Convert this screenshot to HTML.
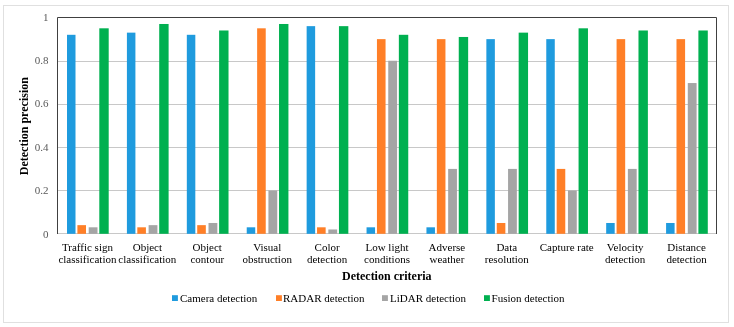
<!DOCTYPE html><html><head><meta charset="utf-8"><style>html,body{margin:0;padding:0;background:#fff;width:734px;height:327px;overflow:hidden}svg{display:block;will-change:transform}text{font-family:"Liberation Serif",serif}</style></head><body>
<svg width="734" height="327" viewBox="0 0 734 327">
<rect x="0" y="0" width="734" height="327" fill="#fff"/>
<rect x="3.5" y="5.5" width="725" height="317" fill="#fff" stroke="#E0E0E0" stroke-width="1"/>
<line x1="57.5" y1="190.50" x2="716.5" y2="190.50" stroke="#C8C8C8" stroke-width="1"/>
<line x1="57.5" y1="147.50" x2="716.5" y2="147.50" stroke="#C8C8C8" stroke-width="1"/>
<line x1="57.5" y1="104.50" x2="716.5" y2="104.50" stroke="#C8C8C8" stroke-width="1"/>
<line x1="57.5" y1="61.50" x2="716.5" y2="61.50" stroke="#C8C8C8" stroke-width="1"/>
<line x1="57.5" y1="233.5" x2="716.5" y2="233.5" stroke="#C8C8C8" stroke-width="1"/>
<rect x="67.00" y="34.80" width="8.5" height="199.00" fill="#1F9BDE"/>
<rect x="77.40" y="225.15" width="8.6" height="8.65" fill="#FF7F27"/>
<rect x="88.70" y="227.31" width="8.8" height="6.49" fill="#A5A5A5"/>
<rect x="99.30" y="28.31" width="9.4" height="205.49" fill="#00B050"/>
<rect x="126.91" y="32.64" width="8.5" height="201.16" fill="#1F9BDE"/>
<rect x="137.31" y="227.31" width="8.6" height="6.49" fill="#FF7F27"/>
<rect x="148.61" y="225.15" width="8.8" height="8.65" fill="#A5A5A5"/>
<rect x="159.21" y="23.99" width="9.4" height="209.81" fill="#00B050"/>
<rect x="186.82" y="34.80" width="8.5" height="199.00" fill="#1F9BDE"/>
<rect x="197.22" y="225.15" width="8.6" height="8.65" fill="#FF7F27"/>
<rect x="208.52" y="222.99" width="8.8" height="10.81" fill="#A5A5A5"/>
<rect x="219.12" y="30.48" width="9.4" height="203.32" fill="#00B050"/>
<rect x="246.73" y="227.31" width="8.5" height="6.49" fill="#1F9BDE"/>
<rect x="257.13" y="28.31" width="8.6" height="205.49" fill="#FF7F27"/>
<rect x="268.43" y="190.54" width="8.8" height="43.26" fill="#A5A5A5"/>
<rect x="279.03" y="23.99" width="9.4" height="209.81" fill="#00B050"/>
<rect x="306.64" y="26.15" width="8.5" height="207.65" fill="#1F9BDE"/>
<rect x="317.04" y="227.31" width="8.6" height="6.49" fill="#FF7F27"/>
<rect x="328.34" y="229.47" width="8.8" height="4.33" fill="#A5A5A5"/>
<rect x="338.94" y="26.15" width="9.4" height="207.65" fill="#00B050"/>
<rect x="366.55" y="227.31" width="8.5" height="6.49" fill="#1F9BDE"/>
<rect x="376.95" y="39.13" width="8.6" height="194.67" fill="#FF7F27"/>
<rect x="388.25" y="60.76" width="8.8" height="173.04" fill="#A5A5A5"/>
<rect x="398.85" y="34.80" width="9.4" height="199.00" fill="#00B050"/>
<rect x="426.45" y="227.31" width="8.5" height="6.49" fill="#1F9BDE"/>
<rect x="436.85" y="39.13" width="8.6" height="194.67" fill="#FF7F27"/>
<rect x="448.15" y="168.91" width="8.8" height="64.89" fill="#A5A5A5"/>
<rect x="458.75" y="36.97" width="9.4" height="196.83" fill="#00B050"/>
<rect x="486.36" y="39.13" width="8.5" height="194.67" fill="#1F9BDE"/>
<rect x="496.76" y="222.99" width="8.6" height="10.81" fill="#FF7F27"/>
<rect x="508.06" y="168.91" width="8.8" height="64.89" fill="#A5A5A5"/>
<rect x="518.66" y="32.64" width="9.4" height="201.16" fill="#00B050"/>
<rect x="546.27" y="39.13" width="8.5" height="194.67" fill="#1F9BDE"/>
<rect x="556.67" y="168.91" width="8.6" height="64.89" fill="#FF7F27"/>
<rect x="567.97" y="190.54" width="8.8" height="43.26" fill="#A5A5A5"/>
<rect x="578.57" y="28.31" width="9.4" height="205.49" fill="#00B050"/>
<rect x="606.18" y="222.99" width="8.5" height="10.81" fill="#1F9BDE"/>
<rect x="616.58" y="39.13" width="8.6" height="194.67" fill="#FF7F27"/>
<rect x="627.88" y="168.91" width="8.8" height="64.89" fill="#A5A5A5"/>
<rect x="638.48" y="30.48" width="9.4" height="203.32" fill="#00B050"/>
<rect x="666.09" y="222.99" width="8.5" height="10.81" fill="#1F9BDE"/>
<rect x="676.49" y="39.13" width="8.6" height="194.67" fill="#FF7F27"/>
<rect x="687.79" y="83.04" width="8.8" height="150.76" fill="#A5A5A5"/>
<rect x="698.39" y="30.48" width="9.4" height="203.32" fill="#00B050"/>
<path d="M57.5 234V17.5H716.5V234" fill="none" stroke="#404040" stroke-width="1"/>
<text x="48.5" y="237.55" font-size="11" fill="#595959" color="#595959" text-anchor="end">0</text>
<text x="48.5" y="194.17" font-size="11" fill="#595959" color="#595959" text-anchor="end">0.2</text>
<text x="48.5" y="150.79" font-size="11" fill="#595959" color="#595959" text-anchor="end">0.4</text>
<text x="48.5" y="107.41" font-size="11" fill="#595959" color="#595959" text-anchor="end">0.6</text>
<text x="48.5" y="64.03" font-size="11" fill="#595959" color="#595959" text-anchor="end">0.8</text>
<text x="48.5" y="20.65" font-size="11" fill="#595959" color="#595959" text-anchor="end">1</text>
<text x="87.45" y="250.5" font-size="11" fill="#000" color="#000" text-anchor="middle">Traffic sign</text>
<text x="87.45" y="263.4" font-size="11" fill="#000" color="#000" text-anchor="middle">classification</text>
<text x="147.36" y="250.5" font-size="11" fill="#000" color="#000" text-anchor="middle">Object</text>
<text x="147.36" y="263.4" font-size="11" fill="#000" color="#000" text-anchor="middle">classification</text>
<text x="207.27" y="250.5" font-size="11" fill="#000" color="#000" text-anchor="middle">Object</text>
<text x="207.27" y="263.4" font-size="11" fill="#000" color="#000" text-anchor="middle">contour</text>
<text x="267.18" y="250.5" font-size="11" fill="#000" color="#000" text-anchor="middle">Visual</text>
<text x="267.18" y="263.4" font-size="11" fill="#000" color="#000" text-anchor="middle">obstruction</text>
<text x="327.09" y="250.5" font-size="11" fill="#000" color="#000" text-anchor="middle">Color</text>
<text x="327.09" y="263.4" font-size="11" fill="#000" color="#000" text-anchor="middle">detection</text>
<text x="387.00" y="250.5" font-size="11" fill="#000" color="#000" text-anchor="middle">Low light</text>
<text x="387.00" y="263.4" font-size="11" fill="#000" color="#000" text-anchor="middle">conditions</text>
<text x="446.91" y="250.5" font-size="11" fill="#000" color="#000" text-anchor="middle">Adverse</text>
<text x="446.91" y="263.4" font-size="11" fill="#000" color="#000" text-anchor="middle">weather</text>
<text x="506.82" y="250.5" font-size="11" fill="#000" color="#000" text-anchor="middle">Data</text>
<text x="506.82" y="263.4" font-size="11" fill="#000" color="#000" text-anchor="middle">resolution</text>
<text x="566.73" y="250.5" font-size="11" fill="#000" color="#000" text-anchor="middle">Capture rate</text>
<text x="625.14" y="250.5" font-size="11" fill="#000" color="#000" text-anchor="middle">Velocity</text>
<text x="625.14" y="263.4" font-size="11" fill="#000" color="#000" text-anchor="middle">detection</text>
<text x="686.55" y="250.5" font-size="11" fill="#000" color="#000" text-anchor="middle">Distance</text>
<text x="686.55" y="263.4" font-size="11" fill="#000" color="#000" text-anchor="middle">detection</text>
<text x="386.8" y="279.7" font-size="12" font-weight="bold" fill="#000" color="#000" text-anchor="middle">Detection criteria</text>
<text transform="translate(28.4,126.15) rotate(-90)" x="0" y="0" font-size="12" font-weight="bold" fill="#000" color="#000" text-anchor="middle">Detection precision</text>
<rect x="172" y="295.2" width="5.9" height="5.8" fill="#1F9BDE"/>
<text x="180" y="301.5" font-size="11" fill="#000" color="#000">Camera detection</text>
<rect x="276" y="295.2" width="5.9" height="5.8" fill="#FF7F27"/>
<text x="283" y="301.5" font-size="11" fill="#000" color="#000">RADAR detection</text>
<rect x="382" y="295.2" width="5.9" height="5.8" fill="#A5A5A5"/>
<text x="390" y="301.5" font-size="11" fill="#000" color="#000">LiDAR detection</text>
<rect x="484" y="295.2" width="5.9" height="5.8" fill="#00B050"/>
<text x="491.6" y="301.5" font-size="11" fill="#000" color="#000">Fusion detection</text>
</svg></body></html>
